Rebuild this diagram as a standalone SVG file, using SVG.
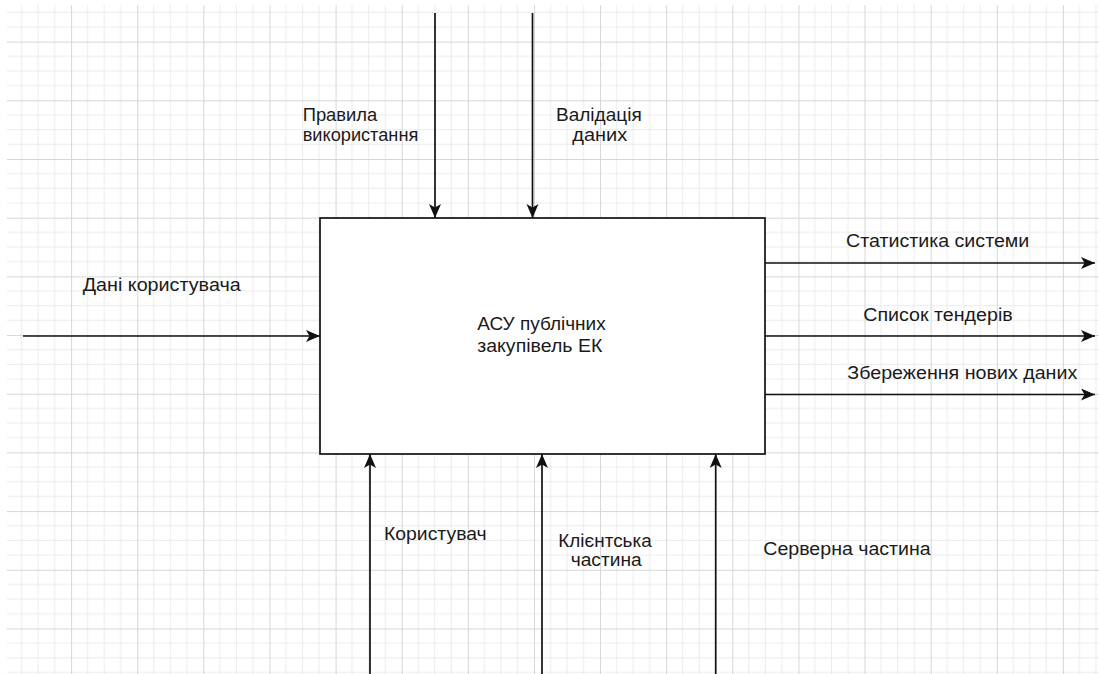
<svg xmlns="http://www.w3.org/2000/svg" width="1099" height="674" viewBox="0 0 1099 674">
  <defs>
    <pattern id="grid" patternUnits="userSpaceOnUse" x="4.98" y="-17.04" width="66.12" height="58.68">
      <path d="M16.53,0V58.68M33.06,0V58.68M49.59,0V58.68M0,14.67H66.12M0,29.34H66.12M0,44.01H66.12" stroke="#ebebeb" stroke-width="1" fill="none"/>
      <path d="M0.5,0V58.68M0,0.5H66.12" stroke="#d6d6d6" stroke-width="1" fill="none"/>
    </pattern>
    <marker id="arrow" markerUnits="userSpaceOnUse" markerWidth="15" markerHeight="13" refX="14" refY="6" orient="auto">
      <path d="M0,0 L14,6 L0,12 L3.5,6 Z" fill="#111111"/>
    </marker>
    <style>
      .lbl { font-family: "Liberation Sans", Arial, sans-serif; font-size: 17.5px; fill: #1a1a1a; }
      .conn { stroke: #111111; stroke-width: 1.7; fill: none; marker-end: url(#arrow); }
      .box { fill: #ffffff; stroke: #111111; stroke-width: 1.7; }
    </style>
  </defs>
  <rect x="0" y="0" width="1099" height="674" fill="#ffffff"/>
  <rect x="7" y="5" width="1092" height="669" fill="url(#grid)"/>

  <g id="connectors">
    <line class="conn" x1="435" y1="13" x2="435" y2="218"/>
    <line class="conn" x1="532.5" y1="13" x2="532.5" y2="218"/>
    <line class="conn" x1="23" y1="336" x2="320" y2="336"/>
    <line class="conn" x1="765" y1="263" x2="1095" y2="263"/>
    <line class="conn" x1="765" y1="336" x2="1095" y2="336"/>
    <line class="conn" x1="765" y1="394.5" x2="1095" y2="394.5"/>
    <line class="conn" x1="370" y1="674" x2="370" y2="454"/>
    <line class="conn" x1="542" y1="674" x2="542" y2="454"/>
    <line class="conn" x1="715.7" y1="674" x2="715.7" y2="454"/>
  </g>

  <g id="node-main">
    <rect class="box" x="320" y="218" width="445" height="236"/>
    <text class="lbl" x="477.3" y="330" textLength="128.4" lengthAdjust="spacingAndGlyphs">АСУ публічних</text>
    <text class="lbl" x="477.3" y="352" textLength="125" lengthAdjust="spacingAndGlyphs">закупівель ЕК</text>
  </g>

  <g id="label-rules">
    <text class="lbl" x="302.7" y="121" textLength="74.6" lengthAdjust="spacingAndGlyphs">Правила</text>
    <text class="lbl" x="302.7" y="140.5" textLength="115.6" lengthAdjust="spacingAndGlyphs">використання</text>
  </g>
  <g id="label-validation">
    <text class="lbl" x="556" y="121" textLength="85.7" lengthAdjust="spacingAndGlyphs">Валідація</text>
    <text class="lbl" x="572.3" y="140.5" textLength="55" lengthAdjust="spacingAndGlyphs">даних</text>
  </g>
  <g id="label-user-data">
    <text class="lbl" x="82.7" y="290.7" textLength="158" lengthAdjust="spacingAndGlyphs">Дані користувача</text>
  </g>
  <g id="label-stats">
    <text class="lbl" x="846" y="246.7" textLength="183.3" lengthAdjust="spacingAndGlyphs">Статистика системи</text>
  </g>
  <g id="label-tenders">
    <text class="lbl" x="863.3" y="320.7" textLength="149.4" lengthAdjust="spacingAndGlyphs">Список тендерів</text>
  </g>
  <g id="label-save">
    <text class="lbl" x="847.3" y="379.3" textLength="230" lengthAdjust="spacingAndGlyphs">Збереження нових даних</text>
  </g>
  <g id="label-user">
    <text class="lbl" x="384" y="540" textLength="102.7" lengthAdjust="spacingAndGlyphs">Користувач</text>
  </g>
  <g id="label-client">
    <text class="lbl" x="558.3" y="546.5" textLength="93.4" lengthAdjust="spacingAndGlyphs">Клієнтська</text>
    <text class="lbl" x="570.7" y="566" textLength="71" lengthAdjust="spacingAndGlyphs">частина</text>
  </g>
  <g id="label-server">
    <text class="lbl" x="763.3" y="555" textLength="167.4" lengthAdjust="spacingAndGlyphs">Серверна частина</text>
  </g>
</svg>
